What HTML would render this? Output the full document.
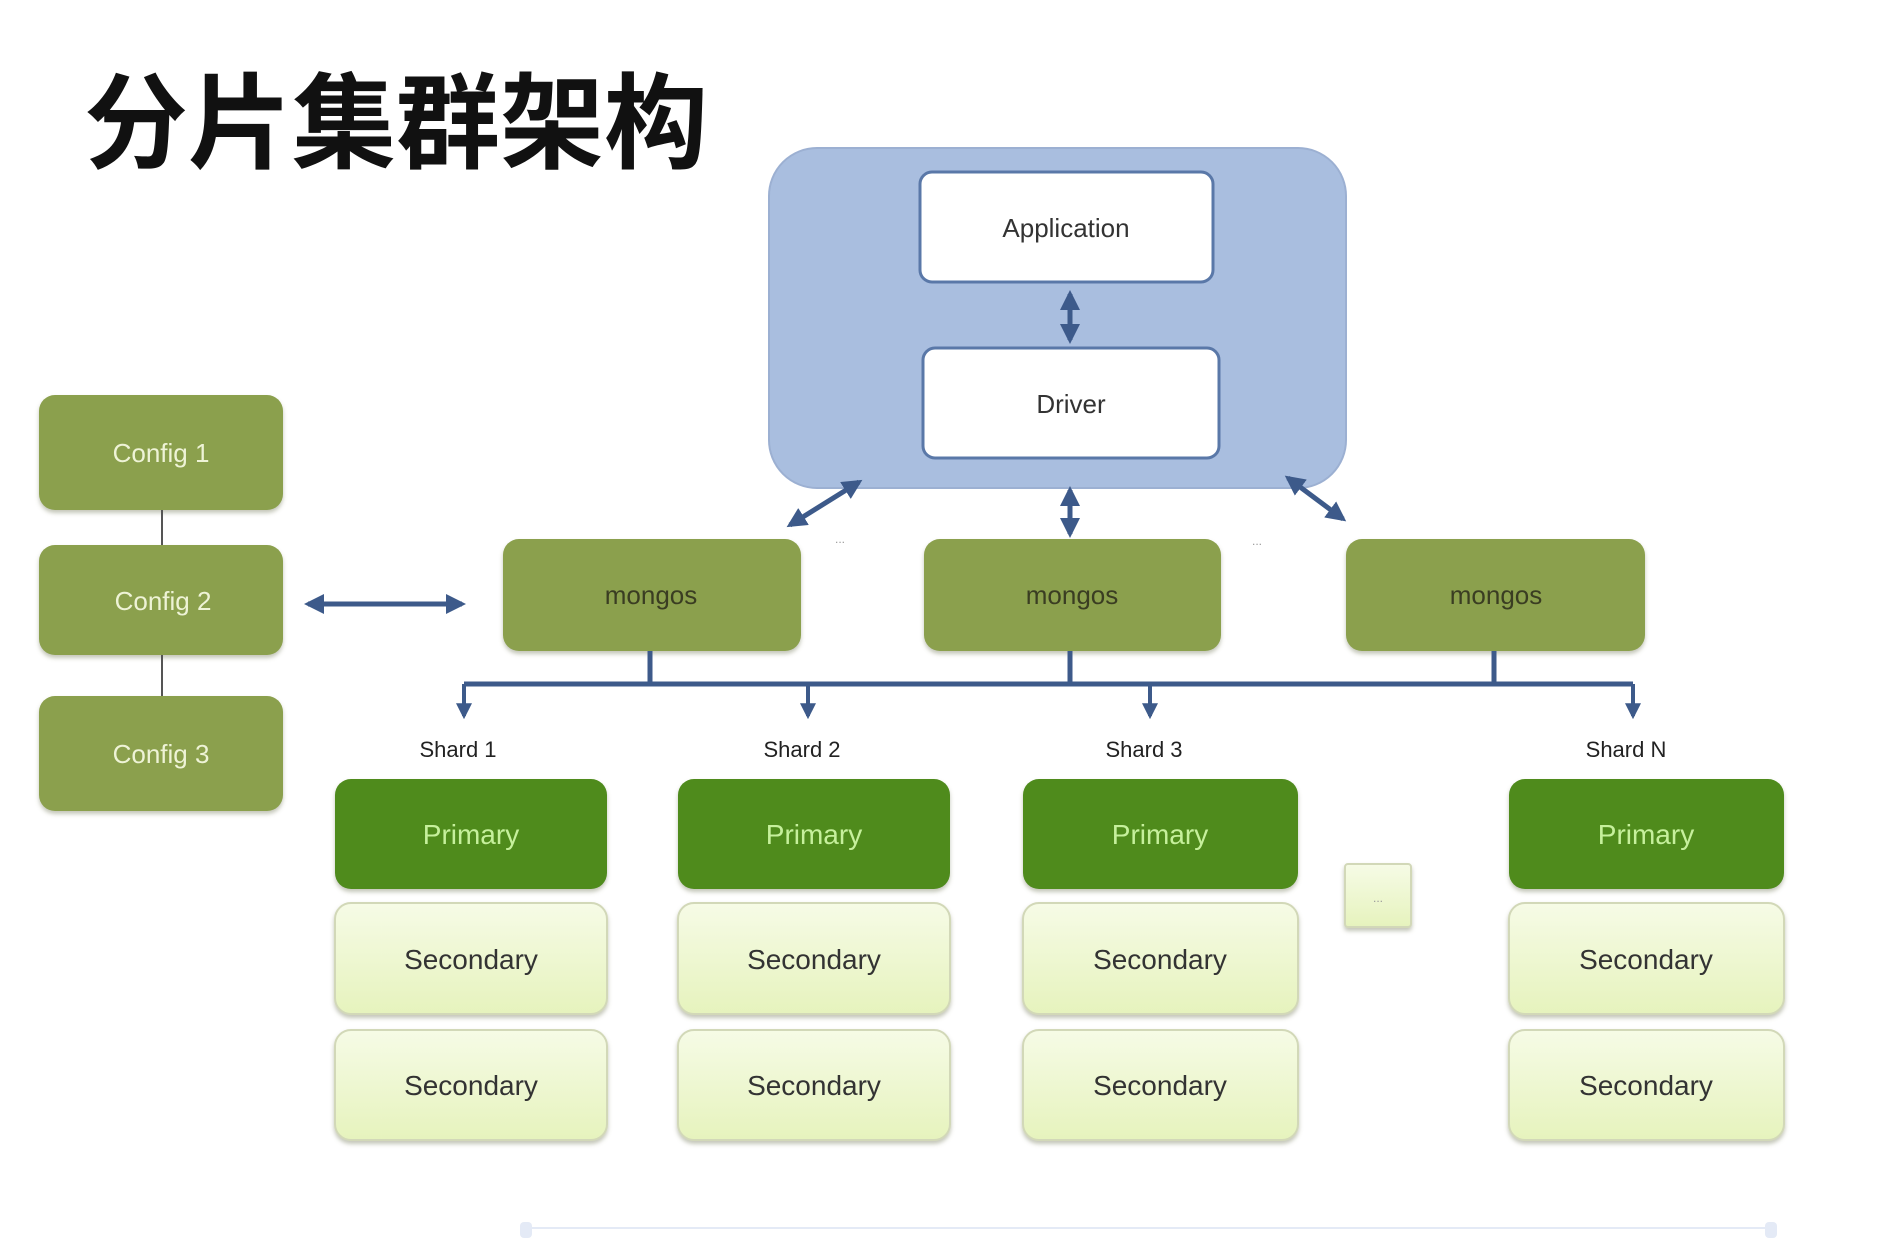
<!DOCTYPE html>
<html><head><meta charset="utf-8"><style>
html,body{margin:0;padding:0;background:#fff;width:1890px;height:1238px;overflow:hidden}
svg{display:block}
text{font-family:"Liberation Sans","Noto Sans CJK SC",sans-serif}
</style></head><body>
<svg width="1890" height="1238" viewBox="0 0 1890 1238" xmlns="http://www.w3.org/2000/svg">
<defs>
<linearGradient id="sec" x1="0" y1="0" x2="0" y2="1"><stop offset="0" stop-color="#f6fbe6"/><stop offset="1" stop-color="#e6f3bd"/></linearGradient>
<marker id="ah" viewBox="0 0 10 10" refX="8" refY="5" markerWidth="4" markerHeight="4" orient="auto-start-reverse"><path d="M0,0 L10,5 L0,10 z" fill="#3d5a8a"/></marker>
<filter id="sh" x="-10%" y="-10%" width="120%" height="130%"><feDropShadow dx="0" dy="3" stdDeviation="2" flood-color="#7a8060" flood-opacity="0.45"/></filter>
</defs>
<text x="84" y="160" font-size="104" font-weight="bold" fill="#111" style="font-family:'Noto Sans CJK SC',sans-serif">分片集群架构</text>

<rect x="769" y="148" width="577" height="340" rx="48" fill="#a9bedf" stroke="#9cb0d2" stroke-width="2"/>
<rect x="920" y="172" width="293" height="110" rx="12" fill="#fff" stroke="#5a78a8" stroke-width="3"/>
<text x="1066" y="237" font-size="26" text-anchor="middle" fill="#333">Application</text>
<rect x="923" y="348" width="296" height="110" rx="12" fill="#fff" stroke="#5a78a8" stroke-width="3"/>
<text x="1071" y="413" font-size="26" text-anchor="middle" fill="#333">Driver</text>

<g stroke="#3d5a8a" stroke-width="5" fill="none" marker-start="url(#ah)" marker-end="url(#ah)">
<line x1="1070" y1="294" x2="1070" y2="340"/>
<line x1="1070" y1="490" x2="1070" y2="534"/>
<line x1="859" y1="482" x2="790" y2="525"/>
<line x1="1288" y1="478" x2="1343" y2="519"/>
<line x1="308" y1="604" x2="462" y2="604"/>
</g>
<text x="835" y="543" font-size="12" fill="#999">...</text>
<text x="1252" y="545" font-size="12" fill="#999">...</text>

<g filter="url(#sh)" fill="#8ba04e">
<rect x="39" y="395" width="244" height="115" rx="16"/>
<rect x="39" y="545" width="244" height="110" rx="16"/>
<rect x="39" y="696" width="244" height="115" rx="16"/>
<rect x="503" y="539" width="298" height="112" rx="16"/>
<rect x="924" y="539" width="297" height="112" rx="16"/>
<rect x="1346" y="539" width="299" height="112" rx="16"/>
</g>
<line x1="162" y1="510" x2="162" y2="545" stroke="#555" stroke-width="2"/>
<line x1="162" y1="655" x2="162" y2="696" stroke="#555" stroke-width="2"/>
<g font-size="26" fill="#eef3d6" text-anchor="middle">
<text x="161" y="462">Config 1</text>
<text x="163" y="610">Config  2</text>
<text x="161" y="763">Config 3</text>
</g>
<g font-size="26" fill="#3a3d22" text-anchor="middle">
<text x="651" y="604">mongos</text>
<text x="1072" y="604">mongos</text>
<text x="1496" y="604">mongos</text>
</g>

<g stroke="#3d5a8a" stroke-width="5" fill="none">
<line x1="650" y1="651" x2="650" y2="684"/>
<line x1="1070" y1="651" x2="1070" y2="684"/>
<line x1="1494" y1="651" x2="1494" y2="684"/>
<line x1="464" y1="684" x2="1633" y2="684"/>
</g>
<g stroke="#3d5a8a" stroke-width="4" marker-end="url(#ah)">
<line x1="464" y1="684" x2="464" y2="716"/>
<line x1="808" y1="684" x2="808" y2="716"/>
<line x1="1150" y1="684" x2="1150" y2="716"/>
<line x1="1633" y1="684" x2="1633" y2="716"/>
</g>
<g font-size="22" fill="#222" text-anchor="middle">
<text x="458" y="757">Shard 1</text>
<text x="802" y="757">Shard 2</text>
<text x="1144" y="757">Shard 3</text>
<text x="1626" y="757">Shard N</text>
</g>

<g filter="url(#sh)">
<rect x="335" y="779" width="272" height="110" rx="16" fill="#4f8b1f"/>
<rect x="678" y="779" width="272" height="110" rx="16" fill="#4f8b1f"/>
<rect x="1023" y="779" width="275" height="110" rx="16" fill="#4f8b1f"/>
<rect x="1509" y="779" width="275" height="110" rx="16" fill="#4f8b1f"/>
<g fill="url(#sec)" stroke="#d2d8b8" stroke-width="2">
<rect x="335" y="903" width="272" height="111" rx="16"/>
<rect x="678" y="903" width="272" height="111" rx="16"/>
<rect x="1023" y="903" width="275" height="111" rx="16"/>
<rect x="1509" y="903" width="275" height="111" rx="16"/>
<rect x="335" y="1030" width="272" height="110" rx="16"/>
<rect x="678" y="1030" width="272" height="110" rx="16"/>
<rect x="1023" y="1030" width="275" height="110" rx="16"/>
<rect x="1509" y="1030" width="275" height="110" rx="16"/>
<rect x="1345" y="864" width="66" height="63" rx="3"/>
</g>
</g>
<text x="1378" y="902" font-size="12" fill="#999" text-anchor="middle">...</text>
<g font-size="28" fill="#c6f09c" text-anchor="middle">
<text x="471" y="844">Primary</text>
<text x="814" y="844">Primary</text>
<text x="1160" y="844">Primary</text>
<text x="1646" y="844">Primary</text>
</g>
<g font-size="28" fill="#333" text-anchor="middle">
<text x="471" y="969">Secondary</text>
<text x="814" y="969">Secondary</text>
<text x="1160" y="969">Secondary</text>
<text x="1646" y="969">Secondary</text>
<text x="471" y="1095">Secondary</text>
<text x="814" y="1095">Secondary</text>
<text x="1160" y="1095">Secondary</text>
<text x="1646" y="1095">Secondary</text>
</g>
<line x1="527" y1="1228" x2="1772" y2="1228" stroke="#e4eaf6" stroke-width="2"/>
<rect x="520" y="1222" width="12" height="16" rx="4" fill="#e4eaf6"/>
<rect x="1765" y="1222" width="12" height="16" rx="4" fill="#e4eaf6"/>
</svg>
</body></html>
